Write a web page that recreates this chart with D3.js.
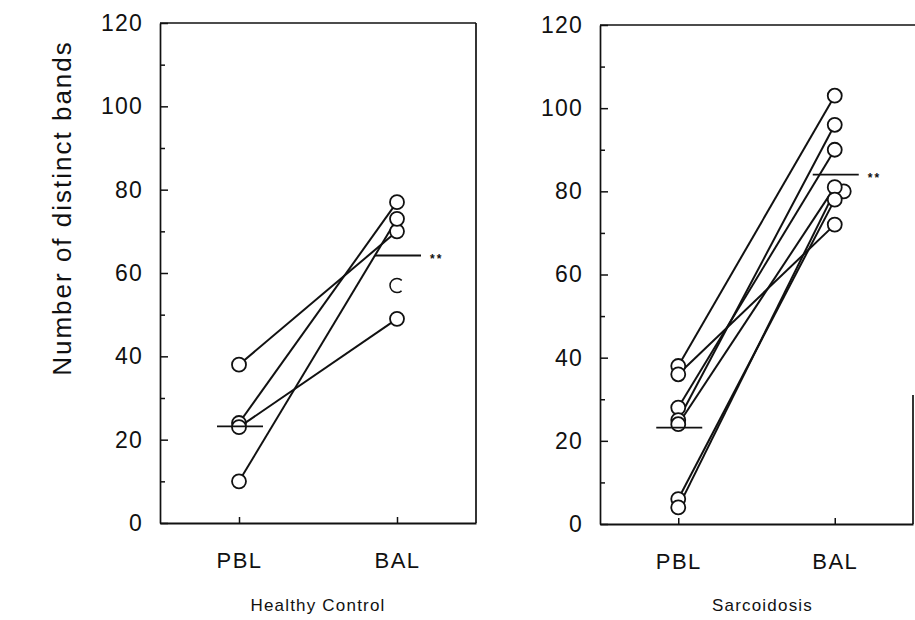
<!DOCTYPE html>
<html>
<head>
<meta charset="utf-8">
<script src="https://cdn.jsdelivr.net/npm/d3@7"></script>
<style>
  body { margin: 0; background: #fff; }
  svg text { font-family: "Liberation Sans", Arial, Helvetica, sans-serif; fill: #111; }
</style>
</head>
<body>
<svg id="chart" width="915" height="620"></svg>
<script>
// data
var groups = ["PBL", "BAL"];
var yTicks = [0, 20, 40, 60, 80, 100, 120];

var healthyPBL = [24, 38, 23, 10];
var healthyBAL = [77, 70, 49, 73];
var healthyLoneBAL = [57];          // BAL value with no paired line
var healthyMeans = [23.2, 64.2];

var sarcPBL = [38, 36, 28, 25, 24, 6, 4];
var sarcBAL = [103, 72, 90, 96, 81, 78, 80];
var sarcMeans = [23.2, 84];

var svg = d3.select("#chart");

// panel boxes
var panels = [
  {name: "Healthy Control", left: 160, right: 476, top: 23, bottom: 523, capShift: 0,
   pbl: healthyPBL, bal: healthyBAL, lone: healthyLoneBAL, means: healthyMeans, fullBox: true},
  {name: "Sarcoidosis", left: 600, right: 913, top: 25, bottom: 524, capShift: 6,
   pbl: sarcPBL, bal: sarcBAL, lone: [], means: sarcMeans, fullBox: false}
];

panels.forEach(function(p) {
  var g = svg.append("g");

  var x = d3.scalePoint().domain(groups).range([p.left, p.right]).padding(0.5);
  var y = d3.scaleLinear().domain([0, 120]).range([p.bottom, p.top]);

  // frame
  g.append("line").attr("x1", p.left).attr("x2", p.fullBox ? p.right : 915)
    .attr("y1", p.top).attr("y2", p.top)
    .attr("stroke", "#111").attr("stroke-width", 1.7);
  g.append("line").attr("x1", p.right).attr("x2", p.right)
    .attr("y1", p.fullBox ? p.top : y(31)).attr("y2", p.bottom)
    .attr("stroke", "#111").attr("stroke-width", 1.7);

  // y axis: major ticks with labels, minor ticks between
  var yAxis = g.append("g")
    .attr("transform", "translate(" + p.left + ",0)")
    .call(d3.axisLeft(y).tickValues(yTicks).tickSizeInner(-8).tickSizeOuter(0).tickPadding(17));
  yAxis.select(".domain").attr("stroke", "#111").attr("stroke-width", 1.7);
  yAxis.selectAll(".tick line").attr("stroke", "#111").attr("stroke-width", 1.5);
  yAxis.selectAll(".tick text")
    .style("font-size", "23px").style("letter-spacing", "1.2px").attr("fill", "#111");

  g.append("g")
    .attr("transform", "translate(" + p.left + ",0)")
    .call(d3.axisLeft(y).tickValues(d3.range(10, 120, 20)).tickSizeInner(-5).tickSizeOuter(0).tickFormat(""))
    .call(function(a) { a.select(".domain").remove(); })
    .selectAll(".tick line").attr("stroke", "#111").attr("stroke-width", 1.5);

  // x axis
  var xAxis = g.append("g")
    .attr("transform", "translate(0," + p.bottom + ")")
    .call(d3.axisBottom(x).tickSizeInner(-6).tickSizeOuter(0).tickPadding(29));
  xAxis.select(".domain").attr("stroke", "#111").attr("stroke-width", 1.9);
  xAxis.selectAll(".tick line").attr("stroke", "#111").attr("stroke-width", 1.5);
  xAxis.selectAll(".tick text")
    .style("font-size", "22px").style("letter-spacing", "1.5px").attr("fill", "#111");

  // group caption
  g.append("text")
    .attr("x", (p.left + p.right) / 2 + p.capShift)
    .attr("y", 611)
    .attr("text-anchor", "middle")
    .style("font-size", "17px").style("letter-spacing", "1.2px")
    .text(p.name);

  // paired lines
  var pairs = p.pbl.map(function(v, i) { return [v, p.bal[i]]; });
  g.selectAll(".pair")
    .data(pairs)
    .enter().append("line")
    .attr("class", "pair")
    .attr("x1", x("PBL")).attr("y1", function(d) { return y(d[0]); })
    .attr("x2", x("BAL")).attr("y2", function(d) { return y(d[1]); })
    .attr("stroke", "#111").attr("stroke-width", 2);

  // nudge a BAL circle right when it nearly sits on an earlier one
  function balShift(v, i) {
    for (var j = 0; j < i; j++) if (Math.abs(p.bal[j] - v) < 1.5) return 9;
    return 0;
  }

  g.selectAll(".pbl")
    .data(p.pbl)
    .enter().append("circle")
    .attr("class", "pbl")
    .attr("cx", x("PBL")).attr("cy", function(d) { return y(d); })
    .attr("r", 7).attr("fill", "#fff").attr("stroke", "#111").attr("stroke-width", 1.8);

  // draw the nudged ones first so they sit behind
  var balIdx = d3.range(p.bal.length).sort(function(a, b) { return balShift(p.bal[b], b) - balShift(p.bal[a], a); });
  g.selectAll(".bal")
    .data(balIdx)
    .enter().append("circle")
    .attr("class", "bal")
    .attr("cx", function(i) { return x("BAL") + balShift(p.bal[i], i); })
    .attr("cy", function(i) { return y(p.bal[i]); })
    .attr("r", 7).attr("fill", "#fff").attr("stroke", "#111").attr("stroke-width", 1.8);

  // lone, partly broken circle
  g.selectAll(".lone")
    .data(p.lone)
    .enter().append("circle")
    .attr("class", "lone")
    .attr("cx", x("BAL")).attr("cy", function(d) { return y(d); })
    .attr("r", 7).attr("fill", "#fff").attr("stroke", "#111").attr("stroke-width", 1.5)
    .attr("stroke-dasharray", "0,6,32,6");

  // mean bars
  g.selectAll(".mean")
    .data(p.means)
    .enter().append("line")
    .attr("class", "mean")
    .attr("x1", function(d, i) { return x(groups[i]) - 22; })
    .attr("x2", function(d, i) { return x(groups[i]) + 24; })
    .attr("y1", function(d) { return y(d); })
    .attr("y2", function(d) { return y(d); })
    .attr("stroke", "#111").attr("stroke-width", 1.8);

  g.append("text")
    .attr("x", x("BAL") + 33)
    .attr("y", y(p.means[1]) + 7)
    .style("font-size", "12px").style("font-weight", "bold").style("letter-spacing", "2px")
    .text("**");
});

// shared y title
svg.append("text")
  .attr("transform", "translate(71,208) rotate(-90)")
  .attr("text-anchor", "middle")
  .style("font-size", "26px").style("letter-spacing", "2px")
  .text("Number of distinct bands");
</script>
</body>
</html>
